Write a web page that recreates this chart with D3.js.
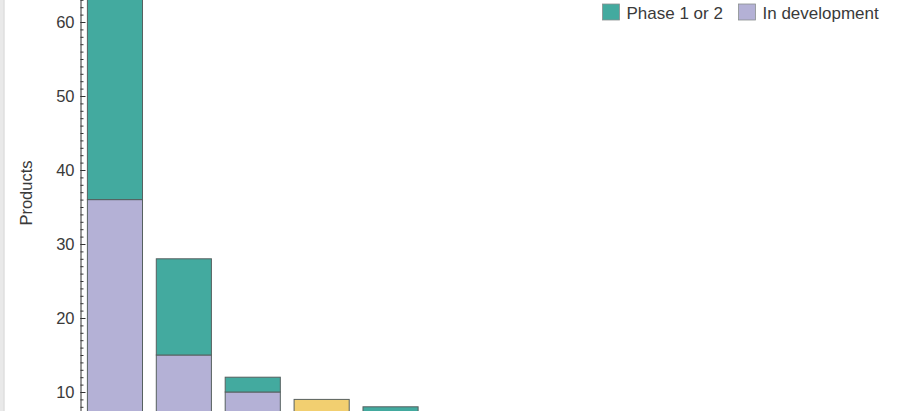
<!DOCTYPE html>
<html>
<head>
<meta charset="utf-8">
<script src="https://cdn.jsdelivr.net/npm/d3@7"></script>
<style>
  html, body { margin: 0; padding: 0; background: #fff; overflow: hidden; }
  #chart { width: 919px; height: 411px; overflow: hidden; }
  text { font-family: "Liberation Sans", Arial, sans-serif; }
</style>
</head>
<body>
<div id="chart"></div>
<script>
// Products per category, stacked by stage (bottom to top)
const categories = ["Category 1", "Category 2", "Category 3", "Category 4", "Category 5"];
const inDevelopment = [36, 15, 10, 5, 5];
const phase12 = [28, 13, 2, 2, 3];
const phase3 = [0, 0, 0, 2, 0];

const seriesKeys = ["inDevelopment", "phase12", "phase3"];
const seriesColors = { inDevelopment: "#b4b1d6", phase12: "#43aa9f", phase3: "#f2cf70" };
const legendItems = [
  { key: "phase12", label: "Phase 1 or 2" },
  { key: "inDevelopment", label: "In development" }
];
const majorTicks = [10, 20, 30, 40, 50, 60];

const table = categories.map((c, i) => ({
  category: c,
  inDevelopment: inDevelopment[i],
  phase12: phase12[i],
  phase3: phase3[i]
}));

const width = 919, height = 411;
const axisX = 80.5;

const svg = d3.select("#chart")
  .append("svg")
  .attr("width", width)
  .attr("height", height);

// light panel edge on the left
svg.append("rect")
  .attr("x", 0).attr("y", 0)
  .attr("width", 3.5).attr("height", height)
  .attr("fill", "#e9e9e9");
svg.append("line")
  .attr("x1", 4).attr("x2", 4)
  .attr("y1", 0).attr("y2", height)
  .attr("stroke", "#cfcfcf");

const step = 68.9;
const x = d3.scaleBand()
  .domain(categories)
  .range([axisX, axisX + step * categories.length])
  .paddingInner(0.2)
  .paddingOuter(0.1);

// 0 sits just below the visible window, only ~7.4..63 shows
const y = d3.scaleLinear()
  .domain([0, 70])
  .range([466, -52]);

const stack = d3.stack().keys(seriesKeys);
const stacked = stack(table);

const g = svg.append("g");

g.selectAll("g.layer")
  .data(stacked)
  .join("g")
  .attr("class", "layer")
  .attr("fill", d => seriesColors[d.key])
  .selectAll("rect")
  .data(d => d.filter(s => s[1] > s[0]))
  .join("rect")
  .attr("x", d => x(d.data.category))
  .attr("y", d => y(d[1]))
  .attr("width", x.bandwidth())
  .attr("height", d => y(d[0]) - y(d[1]))
  .attr("stroke", "#56605f")
  .attr("stroke-width", 1);

// minor ticks
svg.append("g")
  .attr("transform", `translate(${axisX},0)`)
  .call(d3.axisLeft(y)
    .tickValues(d3.range(0, 71))
    .tickSize(-3)
    .tickSizeOuter(0)
    .tickFormat(""))
  .call(a => a.select(".domain").attr("stroke", "#333"))
  .call(a => a.selectAll(".tick line").attr("stroke", "#333"));

// major ticks with labels
svg.append("g")
  .attr("transform", `translate(${axisX},0)`)
  .call(d3.axisLeft(y)
    .tickValues(majorTicks)
    .tickSize(-5)
    .tickSizeOuter(0)
    .tickPadding(6))
  .call(a => a.select(".domain").remove())
  .call(a => a.selectAll(".tick line").attr("stroke", "#333"))
  .call(a => a.selectAll(".tick text")
    .attr("font-size", "16.5px")
    .attr("font-family", "'Liberation Sans', Arial, sans-serif")
    .attr("fill", "#3a3a3a"));

svg.append("text")
  .attr("transform", "rotate(-90)")
  .attr("x", -193)
  .attr("y", 32)
  .attr("text-anchor", "middle")
  .attr("font-size", "16.5px")
  .attr("fill", "#3a3a3a")
  .text("Products");

// legend row
const legendX = [602.5, 738.5];
const legend = svg.append("g");
legendItems.forEach((item, i) => {
  legend.append("rect")
    .attr("x", legendX[i]).attr("y", 4)
    .attr("width", 17).attr("height", 16)
    .attr("fill", seriesColors[item.key])
    .attr("stroke", "#8a8f8f")
    .attr("stroke-width", 0.8);
  legend.append("text")
    .attr("x", legendX[i] + 24)
    .attr("y", 18.5)
    .attr("font-size", "17px")
    .attr("fill", "#3a3a3a")
    .text(item.label);
});
</script>
</body>
</html>
